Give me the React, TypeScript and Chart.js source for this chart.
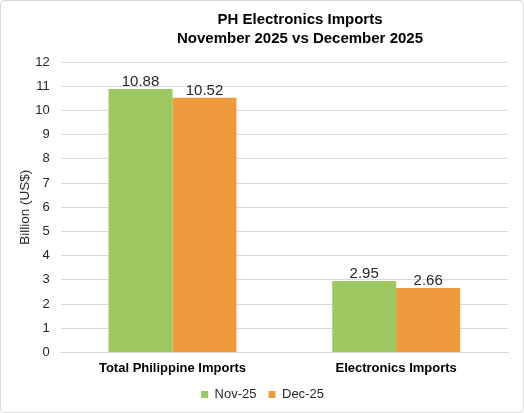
import React, { useEffect, useRef } from 'react';
import { Chart, ChartConfiguration, Plugin, registerables } from 'chart.js';

Chart.register(...registerables);

const categories = ['Total Philippine Imports', 'Electronics Imports'];
const seriesLabels = ['Nov-25', 'Dec-25'];
const nov25 = [10.88, 2.95];
const dec25 = [10.52, 2.66];
const titleLines = ['PH Electronics Imports', 'November 2025 vs December 2025'];
const yAxisTitle = 'Billion (US$)';

const FONT = '"Liberation Sans", Arial, sans-serif';

// two-line title, centred a bit right of the canvas like the original
const chartTitle: Plugin<'bar'> = {
  id: 'chartTitle',
  afterDraw(chart) {
    const { ctx } = chart;
    ctx.save();
    ctx.font = `bold 15px ${FONT}`;
    ctx.fillStyle = '#000';
    ctx.textAlign = 'center';
    ctx.textBaseline = 'alphabetic';
    ctx.fillText(titleLines[0], 299, 23);
    ctx.fillText(titleLines[1], 299, 42);
    ctx.restore();
  }
};

// draws the value above each bar
const valueLabels: Plugin<'bar'> = {
  id: 'valueLabels',
  afterDatasetsDraw(chart) {
    const { ctx } = chart;
    ctx.save();
    ctx.font = `15px ${FONT}`;
    ctx.fillStyle = '#262626';
    ctx.textAlign = 'center';
    ctx.textBaseline = 'alphabetic';
    chart.data.datasets.forEach((ds, i) => {
      chart.getDatasetMeta(i).data.forEach((bar, j) => {
        ctx.fillText((ds.data[j] as number).toFixed(2), bar.x, bar.y - 3);
      });
    });
    ctx.restore();
  }
};

const App = () => {
  const ref = useRef<HTMLCanvasElement | null>(null);
  const chartRef = useRef<Chart<'bar'> | null>(null);

  useEffect(() => {
    document.body.style.margin = '0';
    const canvas = ref.current;
    if (!canvas) return;
    if (chartRef.current) chartRef.current.destroy();

    const config: ChartConfiguration<'bar'> = {
      type: 'bar',
      data: {
        labels: categories,
        datasets: [
          { label: seriesLabels[0], data: nov25, backgroundColor: '#9ec862' },
          { label: seriesLabels[1], data: dec25, backgroundColor: '#f09a3e' }
        ]
      },
      options: {
        animation: false,
        responsive: false,
        maintainAspectRatio: false,
        datasets: { bar: { categoryPercentage: 0.572, barPercentage: 1 } },
        layout: { padding: { left: 16, right: 15, top: 61, bottom: 1 } },
        plugins: {
          title: { display: false },
          legend: {
            position: 'bottom',
            labels: {
              boxWidth: 7,
              boxHeight: 7,
              color: '#262626',
              font: { family: FONT, size: 13 },
              padding: 12
            }
          },
          tooltip: { enabled: false }
        },
        scales: {
          x: {
            grid: { display: false },
            border: { color: '#d9d9d9' },
            ticks: {
              color: '#000',
              font: { family: FONT, size: 13, weight: 'bold' },
              padding: 0
            }
          },
          y: {
            min: 0,
            max: 12,
            grid: { color: '#d9d9d9', drawTicks: false },
            border: { display: false },
            ticks: {
              stepSize: 1,
              color: '#262626',
              font: { family: FONT, size: 13 },
              padding: 11
            },
            title: {
              display: true,
              text: yAxisTitle,
              color: '#262626',
              font: { family: FONT, size: 13.5 },
              // negative bottom trims the extra tick padding Chart.js reserves
              padding: { top: 0, bottom: -9 }
            }
          }
        }
      },
      plugins: [valueLabels, chartTitle]
    };

    chartRef.current = new Chart(canvas, config);
    return () => {
      chartRef.current?.destroy();
      chartRef.current = null;
    };
  }, []);

  return (
    <div
      style={{
        position: 'absolute',
        left: 0,
        top: 0,
        width: 524,
        height: 413,
        boxSizing: 'border-box',
        border: '1px solid #d9d9d9',
        borderRadius: 4,
        background: '#fff',
        overflow: 'hidden'
      }}
    >
      <canvas ref={ref} width={522} height={411} style={{ display: 'block' }} />
    </div>
  );
};

export default App;
